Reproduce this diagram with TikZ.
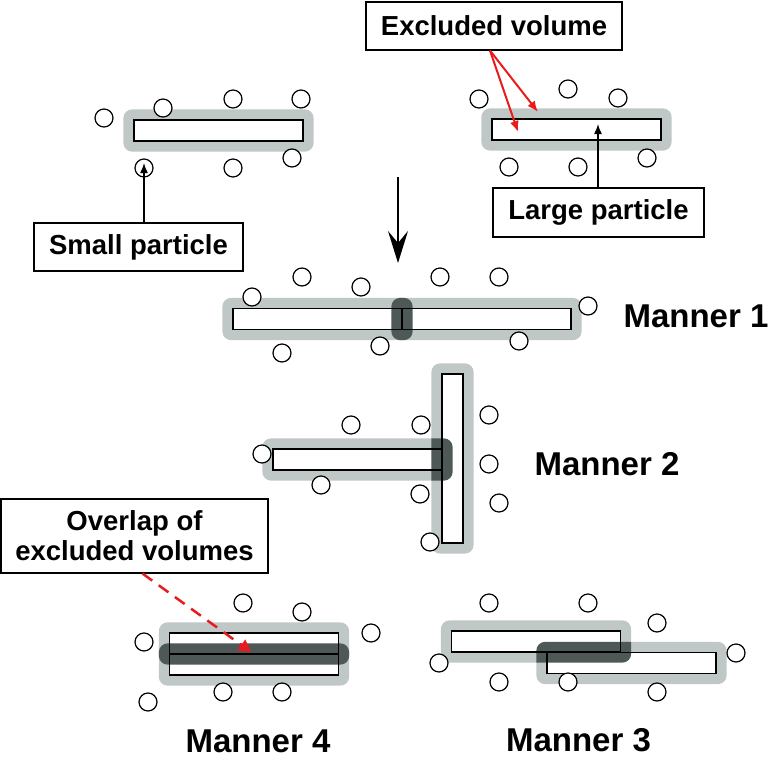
\documentclass[tikz,border=0pt]{standalone}
\usepackage{fontspec}
\setmainfont{Liberation Sans}
\usetikzlibrary{arrows.meta}
\definecolor{halogray}{RGB}{191,200,198}
\definecolor{darkvol}{RGB}{78,88,87}
\definecolor{arrowred}{RGB}{232,28,28}
\pgfdeclarelayer{bg}
\pgfsetlayers{bg,main}
\tikzset{
  halo/.style={fill=halogray, rounded corners=9pt},
  overlap/.style={fill=darkvol, rounded corners=9pt},
  halo path/.style={insert path={([shift={(-10pt,-10pt)}]#1.south west) rectangle ([shift={(10pt,10pt)}]#1.north east)}},
  hbar/.style={draw, line width=1.4pt, inner sep=0pt, minimum width=169pt, minimum height=21pt},
  vbar/.style={draw, line width=1.4pt, inner sep=0pt, minimum width=21pt, minimum height=169pt},
  ball/.style={circle, draw, fill=white, line width=1.2pt, inner sep=0pt, minimum size=18pt},
  tag/.style={draw, line width=1.1pt, fill=white, inner sep=0pt, align=center, font=\fontsize{27.5}{30}\selectfont\bfseries},
  manner/.style={font=\fontsize{33}{36}\selectfont\bfseries}
}
\begin{document}
\begin{tikzpicture}[x=1pt, y=-1pt]
\useasboundingbox (0,0) rectangle (776,760);
% large particles
\node[hbar] (tl) at (218.5,130.5) {};
\node[hbar] (tr) at (576.5,129.5) {};
\node[hbar] (m1a) at (317.5,319) {};
\node[hbar] (m1b) at (486.5,319) {};
\node[hbar] (m2a) at (357.5,459.5) {};
\node[vbar] (m2b) at (452.5,458.5) {};
\node[hbar] (m3a) at (536,641.5) {};
\node[hbar] (m3b) at (631.5,663) {};
\node[hbar] (m4a) at (254,643.5) {};
\node[hbar] (m4b) at (254,664.5) {};
% excluded volumes
\begin{pgfonlayer}{bg}
\foreach \b in {tl,tr,m1a,m1b,m2a,m2b,m3a,m3b,m4a,m4b}
  \fill[halo, halo path=\b];
\foreach \b in {tl,tr,m1a,m1b,m2a,m2b,m3a,m3b,m4a,m4b}
  \fill[white] (\b.south west) rectangle (\b.north east);
\foreach \p/\q in {m1a/m1b,m2a/m2b,m3a/m3b,m4a/m4b}{
  \begin{scope}
    \clip[rounded corners=9pt, halo path=\p];
    \fill[overlap, halo path=\q];
  \end{scope}
}
\end{pgfonlayer}
% small particles
\foreach \x/\y [count=\i] in {104/118,163/108,233/99,301/99,144/168,233/168,292/158}
  \node[ball] (tl\i) at (\x,\y) {};
\foreach \x/\y [count=\i] in {479/99,568/89,618/98,509/167,578/167,647/158}
  \node[ball] (tr\i) at (\x,\y) {};
\foreach \x/\y [count=\i] in {252/297,302/277,361/287,440/277,499/277,588/306,380/346,519/341,282/353}
  \node[ball] (mo\i) at (\x,\y) {};
\foreach \x/\y [count=\i] in {351/425,421/425,489/415,262/454,321/485,420/494,489/464,499/503,430/542}
  \node[ball] (mt\i) at (\x,\y) {};
\foreach \x/\y [count=\i] in {489/603,588/603,657/623,736/653,439/663,499/682,568/682,657/692}
  \node[ball] (mh\i) at (\x,\y) {};
\foreach \x/\y [count=\i] in {243/603,302/612,371/633,144/642,148/702,223/692,282/692}
  \node[ball] (mf\i) at (\x,\y) {};
% labels
\node[tag, minimum width=256pt, minimum height=48pt] (ev) at (494,26) {Excluded volume};
\node[tag, minimum width=209pt, minimum height=48pt] (sp) at (138.5,247) {Small particle};
\node[tag, minimum width=211pt, minimum height=49pt] (lp) at (598.5,212.5) {Large particle};
\node[tag, minimum width=267pt, minimum height=74pt] (ov) at (134.5,536) {Overlap of\\excluded volumes};
\node[manner, anchor=west] (n1) at (620,316) {Manner 1};
\node[manner, anchor=west] (n2) at (531,464) {Manner 2};
\node[manner] (n3) at (578.5,740) {Manner 3};
\node[manner] (n4) at (258,741) {Manner 4};
% arrows
\coordinate (evA) at (538,112);
\coordinate (evB) at (518,132);
\coordinate (lpT) at (598,124);
\coordinate (ovT) at (251,652);
\coordinate (down0) at (398,177);
\coordinate (down1) at (398,263);
\draw[->, >={Latex[length=11pt,width=9pt]}, line width=2pt, arrowred] ([xshift=-4pt]ev.south) -- (evA);
\draw[->, >={Latex[length=11pt,width=9pt]}, line width=2pt, arrowred] ([xshift=-4pt]ev.south) -- (evB);
\draw[->, >={Latex[length=10pt,width=8pt]}, line width=1.5pt] (lp.north -| lpT) -- (lpT);
\draw[->, >={Latex[length=10pt,width=8pt]}, line width=1.5pt] (sp.north -| tl5) -- ([yshift=5pt]tl5.center);
\draw[->, >={Stealth[length=32pt,width=20pt,inset=12pt]}, line width=1.6pt] (down0) -- (down1);
\draw[->, >={Triangle[length=12pt,width=13pt]}, line width=2.5pt, arrowred, dash pattern=on 12pt off 8pt] ([xshift=8pt]ov.south) -- (ovT);
\end{tikzpicture}
\end{document}
